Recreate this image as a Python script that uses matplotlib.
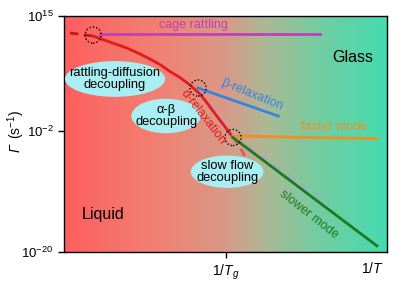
import matplotlib.pyplot as plt
import numpy as np
from matplotlib.colors import LinearSegmentedColormap
from matplotlib.patches import Ellipse

plt.rcParams['font.family'] = ['Liberation Sans', 'DejaVu Sans']
plt.rcParams['mathtext.fontset'] = 'custom'
plt.rcParams['mathtext.rm'] = 'Liberation Sans'
plt.rcParams['mathtext.it'] = 'Liberation Sans:italic'

# alpha relaxation (x = 1/T scaled 0..1, y = log10 rate)
alpha_x = [0.090, 0.142, 0.195, 0.235, 0.266, 0.297, 0.328, 0.359, 0.390,
           0.421, 0.443, 0.474, 0.499, 0.523]
alpha_y = [12.03, 11.14, 10.25, 9.37, 8.62, 7.81, 6.77, 5.88, 4.77,
           3.43, 2.10, 0.10, -1.46, -3.02]
alpha_hi_x = [0.019, 0.090]
alpha_hi_y = [12.48, 12.03]
alpha_lo_x = [0.523, 0.539, 0.560]
alpha_lo_y = [-3.02, -3.98, -5.76]

cage_x = [0.112, 0.793]
cage_y = [12.3, 12.3]
beta_x = [0.415, 0.663]
beta_y = [4.32, 0.17]
fast_x = [0.523, 0.969]
fast_y = [-2.8, -3.2]
slow_x = [0.523, 0.969]
slow_y = [-3.02, -19.1]
# faint guide lines
guide1_x = [0.420, 0.528]
guide1_y = [4.0, -2.9]
guide2_x = [0.523, 0.82]
guide2_y = [-2.7, -3.0]
guide3_x = [0.523, 0.824]
guide3_y = [-2.9, -13.0]

circles = [(0.090, 12.18), (0.415, 4.32), (0.523, -3.02)]

fig = plt.figure(figsize=(4, 2.86), dpi=100)
ax = fig.add_axes([0.16, 0.119, 0.8075, 0.825])

cmap = LinearSegmentedColormap.from_list('bg', [
    (0.0, (1.0, 0.37, 0.37)),
    (0.3, (0.94, 0.51, 0.45)),
    (0.5, (0.85, 0.60, 0.53)),
    (0.62, (0.68, 0.72, 0.58)),
    (0.78, (0.46, 0.80, 0.63)),
    (1.0, (0.27, 0.86, 0.69))])
grad = np.linspace(0, 1, 256).reshape(1, -1)
ax.imshow(grad, cmap=cmap, aspect='auto', extent=[0, 1, -20, 15], zorder=0)

ax.set_xlim(0, 1)
ax.set_ylim(-20, 15)

lw = 2
ax.plot(alpha_x, alpha_y, color='#E51A1A', lw=lw, zorder=3)
ax.plot(alpha_hi_x, alpha_hi_y, color='#C81414', lw=lw, ls=(0, (3, 2)), zorder=3)
ax.plot(alpha_lo_x, alpha_lo_y, color='#F05060', lw=lw, ls=(0, (3, 2)), zorder=3)
ax.plot(cage_x, cage_y, color='#C040B8', lw=lw, zorder=3)
ax.plot(beta_x, beta_y, color='#3484E0', lw=lw, zorder=3)
ax.plot(fast_x, fast_y, color='#F09020', lw=lw, zorder=3)
ax.plot(slow_x, slow_y, color='#1E7A1E', lw=lw, zorder=3)
for gx, gy in [(guide1_x, guide1_y), (guide2_x, guide2_y), (guide3_x, guide3_y)]:
    ax.plot(gx, gy, color='#A0A0E8', lw=1.5, ls=(0, (4, 4)), alpha=0.7, zorder=2)

for cx, cy in circles:
    ax.add_patch(Ellipse((cx, cy), 0.05, 2.4, fill=False, ec='black',
                         ls=(0, (1, 1.5)), lw=1, zorder=5))

ell_color = '#A8EEF2'
bubbles = [((0.158, 5.66), 0.31, 5.3, 'rattling-diffusion\ndecoupling'),
           ((0.316, 0.17), 0.215, 5.1, 'α-β\ndecoupling'),
           ((0.505, -8.1), 0.225, 4.8, 'slow flow\ndecoupling')]
for (bx, by), bw, bh, txt in bubbles:
    ax.add_patch(Ellipse((bx, by), bw, bh, fc=ell_color, ec='none', zorder=4))
    ax.text(bx, by, txt, ha='center', va='center', fontsize=9.3, zorder=6,
            linespacing=1.05)

ax.text(0.40, 13.67, 'cage rattling', color='#C040B8', fontsize=9, ha='center', va='center')
ax.text(0.582, 3.28, 'β-relaxation', color='#3484E0', fontsize=9, ha='center', va='center',
        rotation=-22)
ax.text(0.43, 0.02, 'α-relaxation', color='#E51A1A', fontsize=9, ha='center', va='center',
        rotation=-52, zorder=6)
ax.text(0.836, -1.46, 'faster mode', color='#F09020', fontsize=9, ha='center', va='center')
ax.text(0.759, -14.4, 'slower mode', color='#1E7A1E', fontsize=9, ha='center', va='center',
        rotation=-38)
ax.text(0.895, 8.92, 'Glass', fontsize=11.5, ha='center', va='center')
ax.text(0.121, -14.4, 'Liquid', fontsize=11.5, ha='center', va='center')

ax.set_yticks([15, -2, -20])
ax.set_yticklabels(['10$^{15}$', '10$^{-2}$', '10$^{-20}$'], fontsize=9.5)
ax.set_xticks([0.5])
ax.set_xticklabels(['1/$\\mathit{T}_g$'], fontsize=10)
ax.tick_params(direction='out', length=4, width=1)
ax.text(0.955, -21.3, '1/$\\mathit{T}$', fontsize=10, ha='center', va='top')
fig.text(0.04, 0.483, 'Γ', fontsize=10, style='italic', rotation=90,
         ha='center', va='center')
fig.text(0.04, 0.565, '(s$^{-1}$)', fontsize=10, rotation=90,
         ha='center', va='center')
for s in ax.spines.values():
    s.set_linewidth(1)

fig.savefig('out.png', dpi=100)
